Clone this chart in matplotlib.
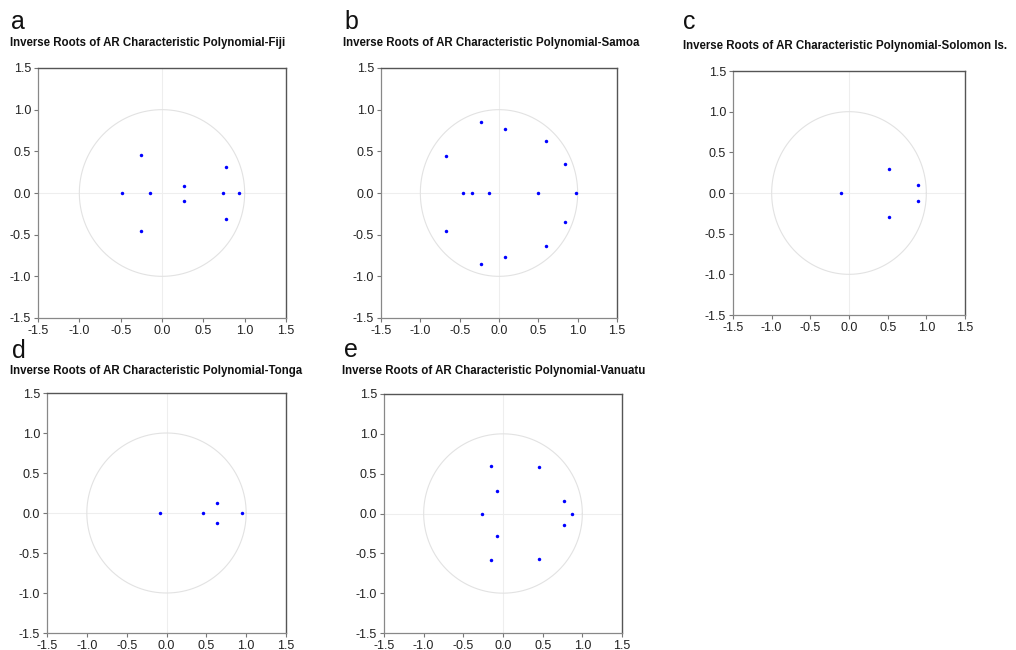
import numpy as np
import matplotlib
matplotlib.use("Agg")
import matplotlib.pyplot as plt

plt.rcParams["font.family"] = ["Liberation Sans", "DejaVu Sans"]

W, H = 1016, 650

fiji_re = [-0.48, -0.14, -0.26, -0.26, 0.27, 0.27, 0.74, 0.93, 0.77, 0.77]
fiji_im = [0.0, 0.0, 0.46, -0.45, 0.09, -0.09, 0.0, 0.0, 0.31, -0.31]

samoa_re = [-0.23, 0.08, 0.60, 0.84, 0.98, 0.49, -0.13, -0.34, -0.46,
            -0.68, -0.68, -0.23, 0.08, 0.60, 0.84]
samoa_im = [0.85, 0.77, 0.63, 0.35, 0.0, 0.0, 0.0, 0.0, 0.0,
            0.45, -0.45, -0.85, -0.77, -0.63, -0.35]

solomon_re = [-0.10, 0.52, 0.52, 0.89, 0.89]
solomon_im = [0.0, 0.30, -0.30, 0.10, -0.10]

tonga_re = [-0.08, 0.46, 0.63, 0.63, 0.95]
tonga_im = [0.0, 0.0, 0.12, -0.12, 0.0]

vanuatu_re = [-0.15, -0.07, -0.27, -0.07, -0.15, 0.46, 0.46, 0.77, 0.77, 0.87]
vanuatu_im = [0.59, 0.28, 0.0, -0.28, -0.58, 0.58, -0.57, 0.16, -0.15, 0.0]

letters = ["a", "b", "c", "d", "e"]
countries = ["Fiji", "Samoa", "Solomon Is.", "Tonga", "Vanuatu"]
series = [(fiji_re, fiji_im), (samoa_re, samoa_im), (solomon_re, solomon_im),
          (tonga_re, tonga_im), (vanuatu_re, vanuatu_im)]
ticks = [-1.5, -1.0, -0.5, 0.0, 0.5, 1.0, 1.5]

# layout in pixels: axes box (left, top, right, bottom), letter / title baseline
boxes = [(38, 68, 286, 318), (381, 68, 617, 318), (733, 71, 965, 315),
         (47, 393, 286, 633), (384, 394, 622, 633)]
letter_pos = [(11, 29), (344, 29), (683, 29), (12, 358), (344, 357)]
title_pos = [(10, 46), (343, 46), (683, 49), (10, 374), (342, 374)]

fig = plt.figure(figsize=(W / 100, H / 100), dpi=100)

theta = np.linspace(0, 2 * np.pi, 400)
for i in range(5):
    l, t, r, b = boxes[i]
    ax = fig.add_axes([l / W, 1 - b / H, (r - l) / W, (b - t) / H])
    ax.axhline(0, color="#eeeeee", lw=0.8, zorder=0)
    ax.axvline(0, color="#eeeeee", lw=0.8, zorder=0)
    ax.plot(np.cos(theta), np.sin(theta), color="#e2e2e2", lw=0.8, zorder=1)
    ax.plot(series[i][0], series[i][1], "o", color="#0000ff", ms=2.5,
            mec="none", zorder=3)
    ax.set_xlim(-1.5, 1.5)
    ax.set_ylim(-1.5, 1.5)
    ax.set_xticks(ticks)
    ax.set_yticks(ticks)
    ax.set_xticklabels([f"{v:.1f}" for v in ticks])
    ax.set_yticklabels([f"{v:.1f}" for v in ticks])
    ax.tick_params(direction="out", length=3, width=0.8, color="#777777",
                   labelsize=9, labelcolor="#222222", pad=2)
    for side in ["left", "bottom"]:
        ax.spines[side].set_color("#888888")
        ax.spines[side].set_linewidth(0.9)
    for side in ["top", "right"]:
        ax.spines[side].set_color("#555555")
        ax.spines[side].set_linewidth(1.0)

    lx, ly = letter_pos[i]
    fig.text(lx / W, 1 - ly / H, letters[i], fontsize=18, va="baseline",
             ha="left", color="#111111")
    tx, ty = title_pos[i]
    fig.text(tx / W, 1 - ty / H,
             "Inverse Roots of AR Characteristic Polynomial-" + countries[i],
             fontsize=8.3, fontweight="bold", va="baseline", ha="left",
             color="#111111")

fig.savefig("out.png", dpi=100, facecolor="white")
